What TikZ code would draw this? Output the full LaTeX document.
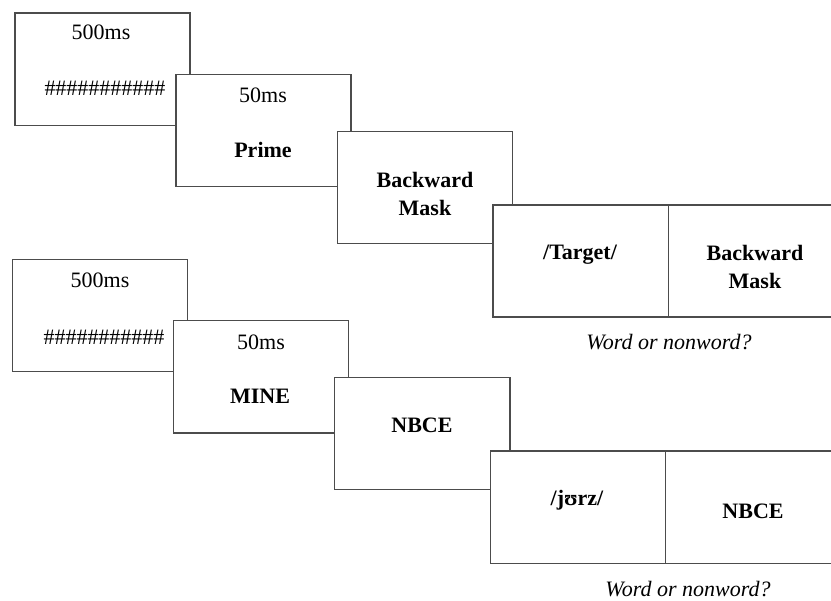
\documentclass[tikz,border=0pt]{standalone}
\usepackage{fontspec}
\setmainfont{Liberation Serif}
\begin{document}
\begin{tikzpicture}[x=1pt,y=-1pt,
  screen/.style={draw=black!70,line width=1.3pt,fill=white},
  txt/.style={inner sep=0pt,font=\fontsize{22}{28}\selectfont,anchor=base},
  btxt/.style={txt,font=\fontsize{22}{28}\selectfont\bfseries},
  mtxt/.style={inner sep=0pt,font=\fontsize{22}{28}\selectfont\bfseries,align=center,anchor=center},
  itxt/.style={txt,font=\fontsize{22}{28}\selectfont\itshape}]
\useasboundingbox (0,0) rectangle (831,601);
% top sequence
\draw[screen] (15,13) rectangle (190,125.5);
\node[txt] (t1a) at (101,40) {500ms};
\node[txt] (t1b) at (105,96) {\#\#\#\#\#\#\#\#\#\#\#};
\draw[screen] (176,74.5) rectangle (351,186.5);
\node[txt] (t2a) at (263,103) {50ms};
\node[btxt] (t2b) at (263,158) {Prime};
\draw[screen] (337.5,131.3) rectangle (512.3,243.3);
\node[mtxt] (t3) at (425,194) {Backward\\Mask};
\draw[screen] (493,205) rectangle (860,317);
\draw[screen] (668.3,205) -- (668.3,317);
\node[btxt] (t4a) at (580,260) {/Target/};
\node[mtxt] (t4b) at (755,267) {Backward\\Mask};
\node[itxt] (q1) at (669,350) {Word or nonword?};
% bottom sequence
\draw[screen] (12.3,259.3) rectangle (187.3,371.7);
\node[txt] (b1a) at (100,288) {500ms};
\node[txt] (b1b) at (104,345) {\#\#\#\#\#\#\#\#\#\#\#};
\draw[screen] (173.3,320.7) rectangle (348.7,433);
\node[txt] (b2a) at (261,350) {50ms};
\node[btxt] (b2b) at (260,404) {MINE};
\draw[screen] (334.3,377.3) rectangle (510,489.3);
\node[btxt] (b3) at (422,433) {NBCE};
\draw[screen] (490.3,451) rectangle (860,563.7);
\draw[screen] (665.3,451) -- (665.3,563.7);
\node[btxt] (b4a) at (577,506) {/jʊrz/};
\node[btxt] (b4b) at (753,519) {NBCE};
\node[itxt] (q2) at (688,597) {Word or nonword?};
\end{tikzpicture}
\end{document}
